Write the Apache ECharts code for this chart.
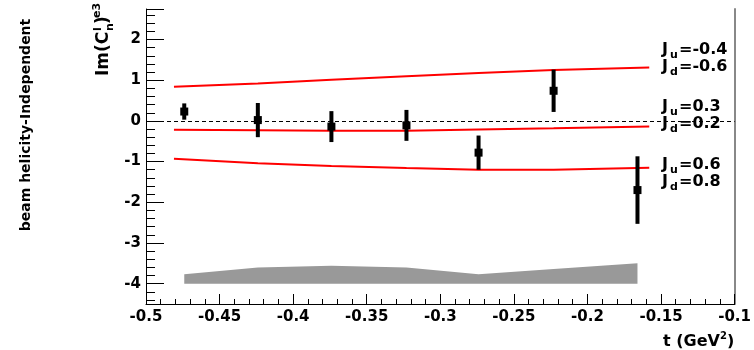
<!DOCTYPE html>
<html>
<head>
<meta charset="utf-8">
<script src="https://cdn.jsdelivr.net/npm/echarts@6/dist/echarts.min.js"></script>
<style>
  html, body { margin: 0; padding: 0; background: #fff; }
  #main { width: 754px; height: 350px; }
</style>
</head>
<body>
<div id="main"></div>
<script>
// measured points (t, Im value, error)
var pointT = [-0.474, -0.424, -0.374, -0.323, -0.274, -0.223, -0.166];
var pointVal = [0.23, 0.02, -0.14, -0.11, -0.78, 0.74, -1.70];
var pointErr = [0.20, 0.42, 0.38, 0.38, 0.42, 0.52, 0.83];

// model curves
var curveT = [-0.481, -0.424, -0.374, -0.323, -0.274, -0.223, -0.158];
var curveA = [0.84, 0.92, 1.01, 1.10, 1.18, 1.25, 1.31];       // Ju=-0.4 Jd=-0.6
var curveB = [-0.22, -0.23, -0.24, -0.24, -0.21, -0.18, -0.14]; // Ju=0.3 Jd=0.2
var curveC = [-0.93, -1.04, -1.11, -1.16, -1.20, -1.20, -1.15]; // Ju=0.6 Jd=0.8

// systematic band (top edge, base at -4)
var bandT = [-0.474, -0.424, -0.374, -0.323, -0.274, -0.223, -0.166];
var bandTop = [-3.77, -3.60, -3.56, -3.60, -3.77, -3.64, -3.50];
var bandBase = -4;

var curveLabels = [
  { ju: '=-0.4', jd: '=-0.6', y: 50 },
  { ju: '=0.3', jd: '=0.2', y: 107 },
  { ju: '=0.6', jd: '=0.8', y: 165 }
];

var FONT = 'DejaVu Sans';

function zip(a, b) {
  return a.map(function (v, i) { return [v, b[i]]; });
}

function txt(x, y, s, size, extra) {
  var o = {
    type: 'text', x: x, y: y, silent: true,
    style: {
      text: s, fill: '#000', font: 'bold ' + size + 'px "' + FONT + '"',
      align: 'left', verticalAlign: 'middle'
    }
  };
  if (extra) for (var k in extra) o[k] = extra[k];
  return o;
}

var graphics = [];
curveLabels.forEach(function (l) {
  graphics.push(txt(662, l.y, 'J', 16));
  graphics.push(txt(670, l.y + 5, 'u', 11));
  graphics.push(txt(679, l.y, l.ju, 16));
  graphics.push(txt(662, l.y + 17, 'J', 16));
  graphics.push(txt(670, l.y + 22, 'd', 11));
  graphics.push(txt(679, l.y + 17, l.jd, 16));
});

// x axis title
graphics.push(txt(663, 342, 't (GeV', 16));
graphics.push(txt(720, 336, '2', 10));
graphics.push(txt(727, 342, ')', 16));

// y axis title, rotated
graphics.push({
  type: 'group', x: 104, y: 76, rotation: Math.PI / 2, silent: true,
  children: [
    txt(0, 0, 'Im(C', 17),
    txt(45, -6, 'l', 11),
    txt(45, 6, 'n', 11),
    txt(52, 0, ')', 17),
    txt(58, -7, 'e3', 11)
  ]
});

// side caption
graphics.push({
  type: 'text', x: 26, y: 125, rotation: Math.PI / 2, silent: true,
  style: {
    text: 'beam helicity-Independent', fill: '#000',
    font: 'bold 14px "' + FONT + '"', align: 'center', verticalAlign: 'middle'
  }
});

function renderBar(params, api) {
  var x = api.value(0), v = api.value(1), e = api.value(2);
  var hi = api.coord([x, v + e]);
  var lo = api.coord([x, v - e]);
  var c = api.coord([x, v]);
  return {
    type: 'group',
    children: [
      { type: 'line', shape: { x1: hi[0], y1: hi[1], x2: lo[0], y2: lo[1] },
        style: { stroke: '#000', lineWidth: 4 } },
      { type: 'rect', shape: { x: c[0] - 4, y: c[1] - 4, width: 8, height: 8 },
        style: { fill: '#000' } }
    ]
  };
}

var chart = echarts.init(document.getElementById('main'));

var redLine = { color: '#ff0000', width: 2 };

var option = {
  animation: false,
  textStyle: { fontFamily: FONT },
  grid: { left: 146, right: 18, top: 9, bottom: 46 },
  xAxis: {
    type: 'value', min: -0.5, max: -0.1, interval: 0.05,
    axisLine: { onZero: false, lineStyle: { color: '#000', width: 1 } },
    axisTick: { inside: true, length: 10, lineStyle: { color: '#000' } },
    minorTick: { show: true, splitNumber: 5, length: 5, lineStyle: { color: '#000' } },
    splitLine: { show: false },
    axisLabel: { color: '#000', fontSize: 15, fontWeight: 'bold', fontFamily: FONT, margin: 6 }
  },
  yAxis: [{
    type: 'value', min: -4.5, max: 2.75, splitNumber: 7,
    axisLine: { show: true, onZero: false, lineStyle: { color: '#000', width: 1 } },
    axisTick: { inside: true, length: 18, lineStyle: { color: '#000' } },
    minorTick: { show: true, splitNumber: 5, length: 9, lineStyle: { color: '#000' } },
    splitLine: { show: false },
    axisLabel: { color: '#000', fontSize: 15, fontWeight: 'bold', fontFamily: FONT, margin: 5,
      showMinLabel: false, showMaxLabel: false }
  }, {
    type: 'value', min: -4.5, max: 2.75, position: 'right',
    axisLine: { show: true, lineStyle: { color: '#888', width: 2 } },
    axisTick: { show: false }, axisLabel: { show: false }, splitLine: { show: false }
  }],
  graphic: graphics,
  series: [
    {
      type: 'line', data: zip(bandT, bandTop), symbol: 'none', silent: true,
      lineStyle: { width: 0 },
      areaStyle: { color: '#999999', opacity: 1, origin: bandBase },
      markLine: {
        silent: true, symbol: 'none', label: { show: false },
        lineStyle: { color: '#000', width: 1, type: [4, 3] },
        data: [{ yAxis: 0 }]
      }
    },
    { type: 'line', data: zip(curveT, curveA), symbol: 'none', lineStyle: redLine, silent: true },
    { type: 'line', data: zip(curveT, curveB), symbol: 'none', lineStyle: redLine, silent: true },
    { type: 'line', data: zip(curveT, curveC), symbol: 'none', lineStyle: redLine, silent: true },
    {
      type: 'custom', renderItem: renderBar, silent: true,
      encode: { x: 0, y: 1 },
      data: pointT.map(function (t, i) { return [t, pointVal[i], pointErr[i]]; }),
      z: 5
    }
  ]
};

chart.setOption(option);
</script>
</body>
</html>
